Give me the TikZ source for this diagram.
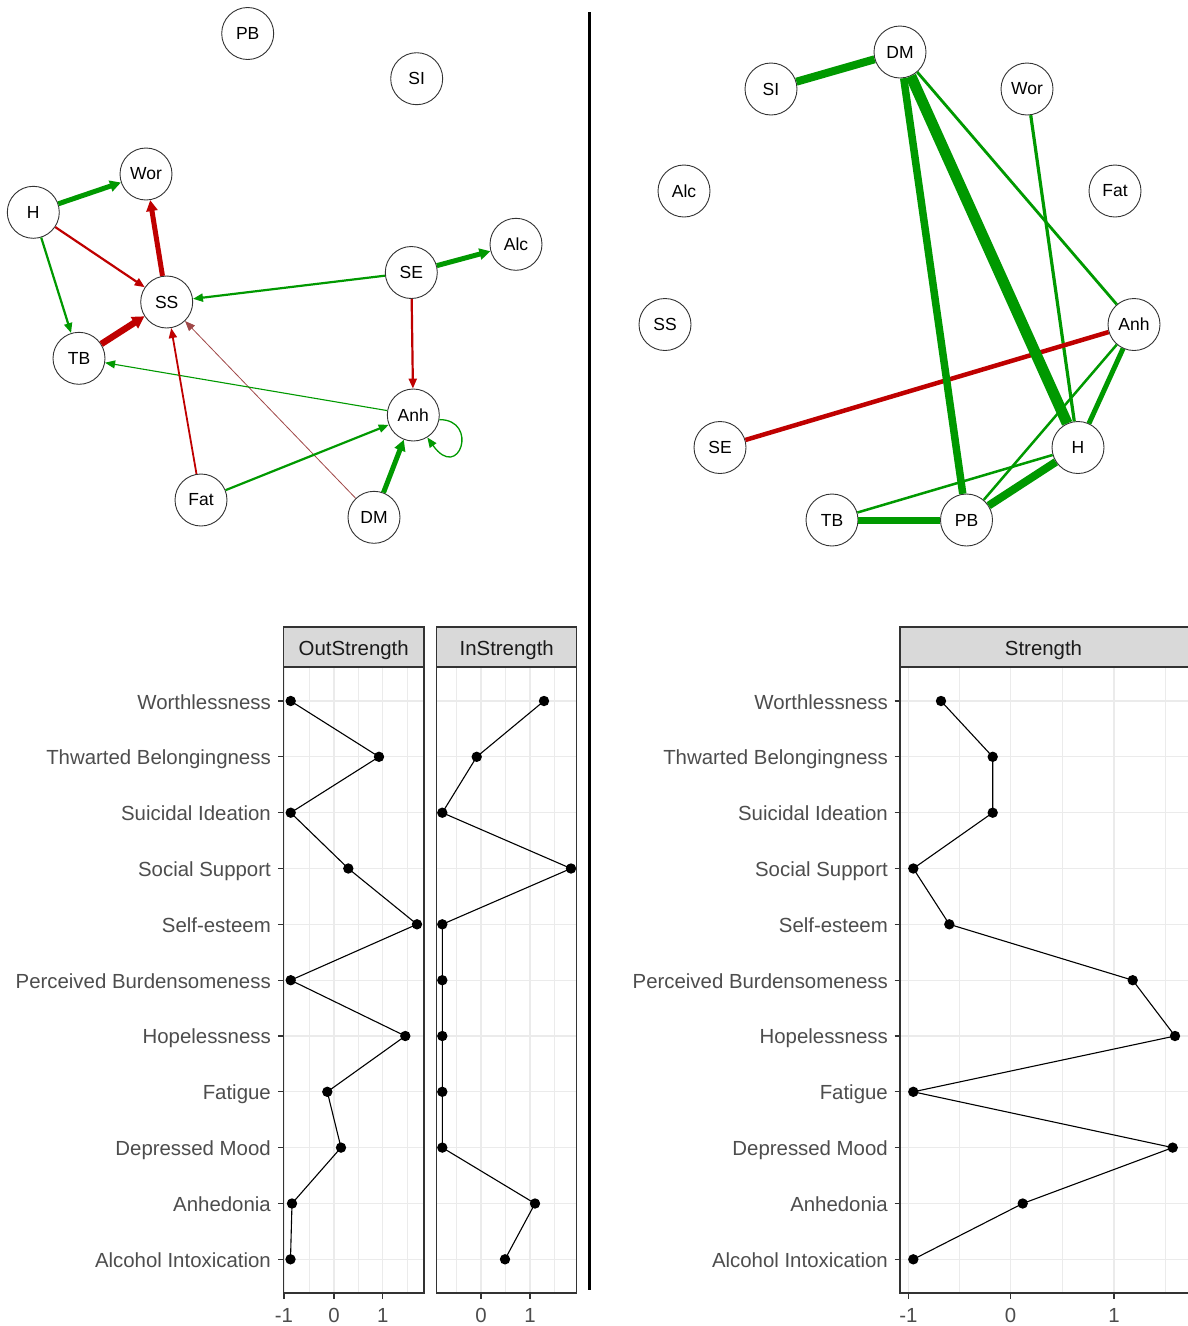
\documentclass[tikz,border=0pt]{standalone}
\usepackage{fontspec}
\setmainfont{Liberation Sans}
\usetikzlibrary{arrows.meta}
\definecolor{pos}{HTML}{009900}
\definecolor{neg}{HTML}{BF0000}
\definecolor{negfaint}{HTML}{A04848}
\definecolor{axtext}{HTML}{4D4D4D}
\definecolor{striptext}{HTML}{1A1A1A}
\definecolor{stripfill}{HTML}{D9D9D9}
\definecolor{frame}{HTML}{333333}
\definecolor{gridc}{HTML}{EBEBEB}

\begin{document}
\begin{tikzpicture}[x=1pt,y=-1pt,
  var/.style={circle,draw=black!80,line width=0.9pt,fill=white,minimum size=52pt,
    inner sep=0pt,font=\fontsize{17.5}{20}\selectfont},
  tipS/.style={-{Triangle[length=10pt,width=8pt]}},
  tipL/.style={-{Triangle[length=11pt,width=11pt]}},
  posE/.style={draw=pos,line width=#1},
  negE/.style={draw=neg,line width=#1},
  axlab/.style={anchor=base east,text=axtext,font=\fontsize{20.4}{24}\selectfont,inner sep=0pt},
  ticklab/.style={anchor=base,text=axtext,font=\fontsize{20.4}{24}\selectfont,inner sep=0pt},
  striplab/.style={anchor=base,text=striptext,font=\fontsize{20.4}{24}\selectfont,inner sep=0pt},
  gridmaj/.style={draw=gridc,line width=1.1pt},
  gridmin/.style={draw=gridc,line width=0.6pt},
  panelframe/.style={draw=frame,line width=1.1pt},
  stripbox/.style={fill=stripfill,draw=frame,line width=1.1pt},
  series/.style={black,line width=1.1pt},
  tickmark/.style={draw=frame,line width=1.1pt},
]
\fill[white] (0,0) rectangle (1187,1326);
\useasboundingbox (0,0) rectangle (1187,1326);

% ---------------- directed network ----------------
\node[var] (lPB)  at (247.7,33.5)  {PB};
\node[var] (lSI)  at (416.7,78.7)  {SI};
\node[var] (lWor) at (146.0,174.0) {Wor};
\node[var] (lH)   at (33.3,212.3)  {H};
\node[var] (lAlc) at (516.0,244.3) {Alc};
\node[var] (lSE)  at (411.3,272.5) {SE};
\node[var] (lSS)  at (166.7,302.0) {SS};
\node[var] (lTB)  at (79.0,358.3)  {TB};
\node[var] (lAnh) at (413.3,415.0) {Anh};
\node[var] (lFat) at (201.0,500.0) {Fat};
\node[var] (lDM)  at (374.0,517.3) {DM};

\draw[draw=negfaint,line width=0.8pt,tipS] (lDM) -- (lSS);
\draw[posE=1.1pt,tipS] (lAnh) -- (lTB);
\draw[posE=1.3pt,tipS] (lAnh.-10) .. controls +(40,0) and +(32,45) .. (lAnh.-58);
\draw[negE=1.8pt,tipS] (lFat) -- (lSS);
\draw[negE=2.2pt,tipS] (lH) -- (lSS);
\draw[posE=2.2pt,tipS] (lH) -- (lTB);
\draw[posE=2.2pt,tipS] (lSE) -- (lSS);
\draw[negE=2.2pt,tipS] (lSE) -- (lAnh);
\draw[posE=2.2pt,tipS] (lFat) -- (lAnh);
\draw[posE=5pt,tipL] (lH) -- (lWor);
\draw[negE=5pt,tipL] (lSS) -- (lWor);
\draw[posE=5pt,tipL] (lSE) -- (lAlc);
\draw[posE=5pt,tipL] (lDM) -- (lAnh);
\draw[negE=6.5pt,-{Triangle[length=12pt,width=13pt]}] (lTB) -- (lSS);

% ---------------- separator ----------------
\coordinate (sepTop) at (589.5,12);
\coordinate (sepBot) at (589.5,1290);
\draw[line width=2.2pt] (sepTop) -- (sepBot);

% ---------------- undirected network ----------------
\node[var] (rDM)  at (900.0,52.0)  {DM};
\node[var] (rSI)  at (771.0,89.0)  {SI};
\node[var] (rWor) at (1027.0,89.0) {Wor};
\node[var] (rAlc) at (684.0,191.0) {Alc};
\node[var] (rFat) at (1115.0,191.0) {Fat};
\node[var] (rSS)  at (665.0,324.5) {SS};
\node[var] (rAnh) at (1134.0,324.5) {Anh};
\node[var] (rSE)  at (720.0,447.5) {SE};
\node[var] (rH)   at (1078.0,447.5) {H};
\node[var] (rTB)  at (832.0,520.0) {TB};
\node[var] (rPB)  at (966.5,520.0) {PB};

\draw[posE=2.5pt] (rAnh) -- (rPB);
\draw[posE=2.5pt] (rH) -- (rTB);
\draw[posE=2.8pt] (rDM) -- (rAnh);
\draw[posE=3.2pt] (rWor) -- (rH);
\draw[negE=4.5pt] (rSE) -- (rAnh);
\draw[posE=5pt] (rAnh) -- (rH);
\draw[posE=7pt] (rTB) -- (rPB);
\draw[posE=7.5pt] (rDM) -- (rPB);
\draw[posE=8pt] (rSI) -- (rDM);
\draw[posE=8pt] (rH) -- (rPB);
\draw[posE=11pt] (rDM) -- (rH);

% ---------------- OutStrength panel ----------------
\fill[white] (283.3,667) rectangle (424,1293);
\foreach \gx in {309,358.5,407.5} \draw[gridmin] (\gx,667) -- (\gx,1293);
\foreach \gx in {284,334,382.7} \draw[gridmaj] (\gx,667) -- (\gx,1293);
\foreach \gy in {701,756.8,812.7,868.5,924.3,980.2,1036.0,1091.8,1147.6,1203.5,1259.3}
  \draw[gridmaj] (283.3,\gy) -- (424,\gy);
\draw[panelframe] (283.3,667) rectangle (424,1293);
\draw[stripbox] (283.3,627) rectangle (424,667);
\node[striplab] (outTitle) at (353.7,655) {OutStrength};
\draw[series] plot coordinates {(290.7,701) (379,756.8) (290.7,812.7) (348.3,868.5)
  (417,924.3) (290.7,980.2) (405.3,1036.0) (327.3,1091.8) (341,1147.6) (292,1203.5) (290.5,1259.3)};
\foreach \px/\py in {290.7/701,379/756.8,290.7/812.7,348.3/868.5,417/924.3,290.7/980.2,
  405.3/1036.0,327.3/1091.8,341/1147.6,292/1203.5,290.5/1259.3}
  \fill (\px,\py) circle[radius=5.2pt];

% ---------------- InStrength panel ----------------
\fill[white] (436.7,667) rectangle (576.7,1293);
\foreach \gx in {456.3,505.5,554.6} \draw[gridmin] (\gx,667) -- (\gx,1293);
\foreach \gx in {481,530} \draw[gridmaj] (\gx,667) -- (\gx,1293);
\foreach \gy in {701,756.8,812.7,868.5,924.3,980.2,1036.0,1091.8,1147.6,1203.5,1259.3}
  \draw[gridmaj] (436.7,\gy) -- (576.7,\gy);
\draw[panelframe] (436.7,667) rectangle (576.7,1293);
\draw[stripbox] (436.7,627) rectangle (576.7,667);
\node[striplab] (inTitle) at (506.7,655) {InStrength};
\draw[series] plot coordinates {(544,701) (476.7,756.8) (442.3,812.7) (571,868.5)
  (442.3,924.3) (442.3,980.2) (442.3,1036.0) (442.3,1091.8) (442.3,1147.6) (535,1203.5) (505,1259.3)};
\foreach \px/\py in {544/701,476.7/756.8,442.3/812.7,571/868.5,442.3/924.3,442.3/980.2,
  442.3/1036.0,442.3/1091.8,442.3/1147.6,535/1203.5,505/1259.3}
  \fill (\px,\py) circle[radius=5.2pt];

% ---------------- Strength panel ----------------
\fill[white] (900,667) rectangle (1195,1293);
\foreach \gx in {959,1062,1165.7} \draw[gridmin] (\gx,667) -- (\gx,1293);
\foreach \gx in {908.5,1010.5,1114} \draw[gridmaj] (\gx,667) -- (\gx,1293);
\foreach \gy in {701,756.8,812.7,868.5,924.3,980.2,1036.0,1091.8,1147.6,1203.5,1259.3}
  \draw[gridmaj] (900,\gy) -- (1195,\gy);
\draw[panelframe] (900,667) rectangle (1195,1293);
\draw[stripbox] (900,627) rectangle (1195,667);
\node[striplab] (strTitle) at (1043.5,655) {Strength};
\draw[series] plot coordinates {(941,701) (992.7,756.8) (992.7,812.7) (913.3,868.5)
  (949.3,924.3) (1132.7,980.2) (1175,1036.0) (913.3,1091.8) (1172.7,1147.6) (1022.7,1203.5) (913.3,1259.3)};
\foreach \px/\py in {941/701,992.7/756.8,992.7/812.7,913.3/868.5,949.3/924.3,1132.7/980.2,
  1175/1036.0,913.3/1091.8,1172.7/1147.6,1022.7/1203.5,913.3/1259.3}
  \fill (\px,\py) circle[radius=5.2pt];

% ---------------- category axes ----------------
\foreach \lab [count=\i from 0] in {Worthlessness,Thwarted Belongingness,Suicidal Ideation,
  Social Support,Self-esteem,Perceived Burdensomeness,Hopelessness,Fatigue,Depressed Mood,
  Anhedonia,Alcohol Intoxication}{
  \pgfmathsetmacro\yy{701+55.83*\i}
  \draw[tickmark] (278,\yy) -- (283.3,\yy);
  \draw[tickmark] (894.7,\yy) -- (900,\yy);
  \node[axlab] (leftLab\i) at (271,\yy+8) {\lab};
  \node[axlab] (rightLab\i) at (888,\yy+8) {\lab};
}

% ---------------- value axes ----------------
\foreach \tx/\tl [count=\j] in {284/-1,334/0,382.7/1,481/0,530/1,908.5/-1,1010.5/0,1114/1}{
  \draw[tickmark] (\tx,1293) -- (\tx,1298.5);
  \node[ticklab] (tick\j) at (\tx,1322) {\tl};
}
\end{tikzpicture}
\end{document}
